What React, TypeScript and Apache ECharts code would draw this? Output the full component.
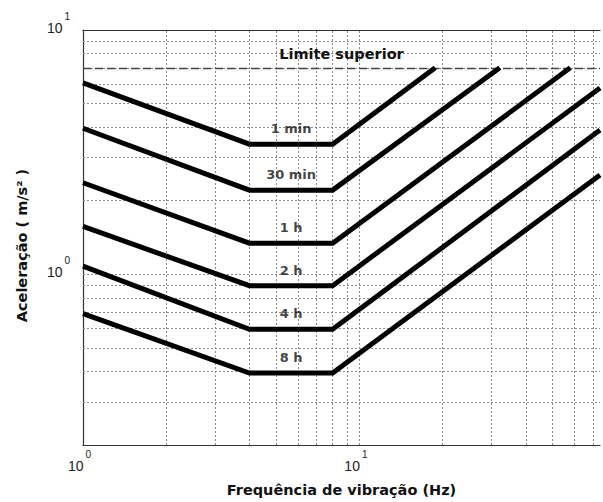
import React, { useEffect, useRef } from "react";
import * as echarts from "echarts";

// Exposure-duration curves: acceleration at 1 Hz, flat plateau between the
// knee frequencies, then a rising branch up to its end point.
const curveNames = ["1 min", "30 min", "1 h", "2 h", "4 h", "8 h"];
const accelAt1Hz = [6.08, 3.96, 2.37, 1.57, 1.08, 0.69];
const accelPlateau = [3.41, 2.21, 1.34, 0.898, 0.595, 0.394];
const endFreq = [18.8, 32.2, 57.9, 74.2, 74.2, 74.2];
const endAccel = [7.0, 7.0, 7.0, 5.79, 3.9, 2.55];
const startFreq = 1;
const kneeFreqLow = 4;
const kneeFreqHigh = 8;
const labelFreq = 5.66;

const limitAccel = 7.0;
const limitLabel = "Limite superior";

// Axis extents and grid divisions (log scales)
const xMin = 1;
const xMax = 74.2;
const yMin = 0.2;
const yMax = 10;
const xGridValues = [2, 3, 4, 5, 6, 7, 8, 9, 10, 20, 30, 40, 50, 60, 70];
const yGridValues = [0.3, 0.4, 0.5, 0.6, 0.7, 0.8, 0.9, 1, 2, 3, 4, 5, 6, 7, 8, 9];
const xTickExponents = [0, 1];
const yTickExponents = [0, 1];

const xTitle = "Frequência de vibração (Hz)";
const yTitle = "Aceleração ( m/s² )";

const boldFont = "DejaVu Sans";
const tickFont = "Liberation Sans";

function powerLabel(exponents: number[]) {
  return (v: number) => {
    const e = Math.log10(v);
    const r = Math.round(e);
    if (Math.abs(e - r) < 1e-6 && exponents.includes(r)) {
      return `{b|10}{s|${r}}`;
    }
    return "";
  };
}

const tickRich = {
  b: { fontSize: 14, fontFamily: tickFont, color: "#222", lineHeight: 16, verticalAlign: "bottom" },
  s: { fontSize: 10, fontFamily: tickFont, color: "#222", padding: [0, 0, 14, 2], verticalAlign: "top" },
};

export default function App() {
  const ref = useRef<HTMLDivElement>(null);

  useEffect(() => {
    if (!ref.current) return;
    const chart = echarts.init(ref.current, null, { renderer: "svg" });

    const curveSeries = curveNames.map((name, i) => ({
      name,
      type: "line",
      data: [
        [startFreq, accelAt1Hz[i]],
        [kneeFreqLow, accelPlateau[i]],
        [kneeFreqHigh, accelPlateau[i]],
        [endFreq[i], endAccel[i]],
      ],
      symbol: "none",
      z: 5,
      lineStyle: { color: "#000", width: 5, join: "miter" },
    }));

    const gridLineStyle = { color: "#8a8a8a", width: 1, type: [2, 2] };

    const option = {
      animation: false,
      backgroundColor: "#fff",
      grid: { left: 83, right: 0, top: 30, bottom: 57, containLabel: false },
      xAxis: [
        {
          type: "log",
          logBase: 10,
          min: xMin,
          max: xMax,
          position: "bottom",
          name: xTitle,
          nameLocation: "middle",
          nameGap: 37,
          nameTextStyle: { fontFamily: boldFont, fontWeight: "bold", fontSize: 14.5, color: "#111" },
          axisLine: { show: true, lineStyle: { color: "#333", width: 1.2 } },
          axisTick: { show: false },
          splitLine: { show: false },
          axisLabel: {
            formatter: powerLabel(xTickExponents),
            margin: 4,
            padding: [0, 7, 0, 0],
            rich: tickRich,
          },
        },
        {
          type: "log",
          logBase: 10,
          min: xMin,
          max: xMax,
          position: "top",
          axisLine: { show: true, lineStyle: { color: "#333", width: 1.2 } },
          axisTick: { show: false },
          axisLabel: { show: false },
          splitLine: { show: false },
        },
      ],
      yAxis: {
        type: "log",
        logBase: 10,
        min: yMin,
        max: yMax,
        name: yTitle,
        nameLocation: "middle",
        nameGap: 54,
        nameRotate: 90,
        nameTextStyle: {
          fontFamily: boldFont,
          fontWeight: "bold",
          fontSize: 14.5,
          color: "#111",
          padding: [0, 16, 0, 0],
        },
        axisLine: { show: true, lineStyle: { color: "#333", width: 1.2 } },
        axisTick: { show: false },
        splitLine: { show: false },
        axisLabel: {
          formatter: powerLabel(yTickExponents),
          margin: 13,
          padding: [0, 0, 14, 0],
          rich: tickRich,
        },
      },
      series: [
        {
          name: "grid",
          type: "line",
          data: [],
          silent: true,
          z: 1,
          markLine: {
            silent: true,
            symbol: "none",
            label: { show: false },
            lineStyle: gridLineStyle,
            data: [
              ...xGridValues.map((v) => ({ xAxis: v })),
              ...yGridValues.map((v) => ({ yAxis: v })),
            ],
          },
        },
        {
          name: "limit",
          type: "line",
          data: [],
          silent: true,
          z: 2,
          markLine: {
            silent: true,
            symbol: "none",
            lineStyle: { color: "#444", width: 1.3, type: [8, 4] },
            label: {
              show: true,
              position: "insideMiddleTop",
              distance: 6,
              formatter: limitLabel,
              fontFamily: boldFont,
              fontWeight: "bold",
              fontSize: 14.5,
              color: "#111",
            },
            data: [{ yAxis: limitAccel }],
          },
        },
        ...curveSeries,
        {
          name: "labels",
          type: "scatter",
          symbolSize: 0.1,
          itemStyle: { color: "rgba(0,0,0,0)" },
          z: 6,
          data: curveNames.map((n, i) => ({ value: [labelFreq, accelPlateau[i]], name: n })),
          label: {
            show: true,
            position: "top",
            distance: 9,
            formatter: (p: any) => p.name,
            fontFamily: boldFont,
            fontWeight: "bold",
            fontSize: 13,
            color: "#111",
          },
        },
      ],
    };

    chart.setOption(option as any);
    return () => chart.dispose();
  }, []);

  return (
    <div
      ref={ref}
      style={{ position: "fixed", left: 0, top: 0, width: 603, height: 502, background: "#fff" }}
    />
  );
}
